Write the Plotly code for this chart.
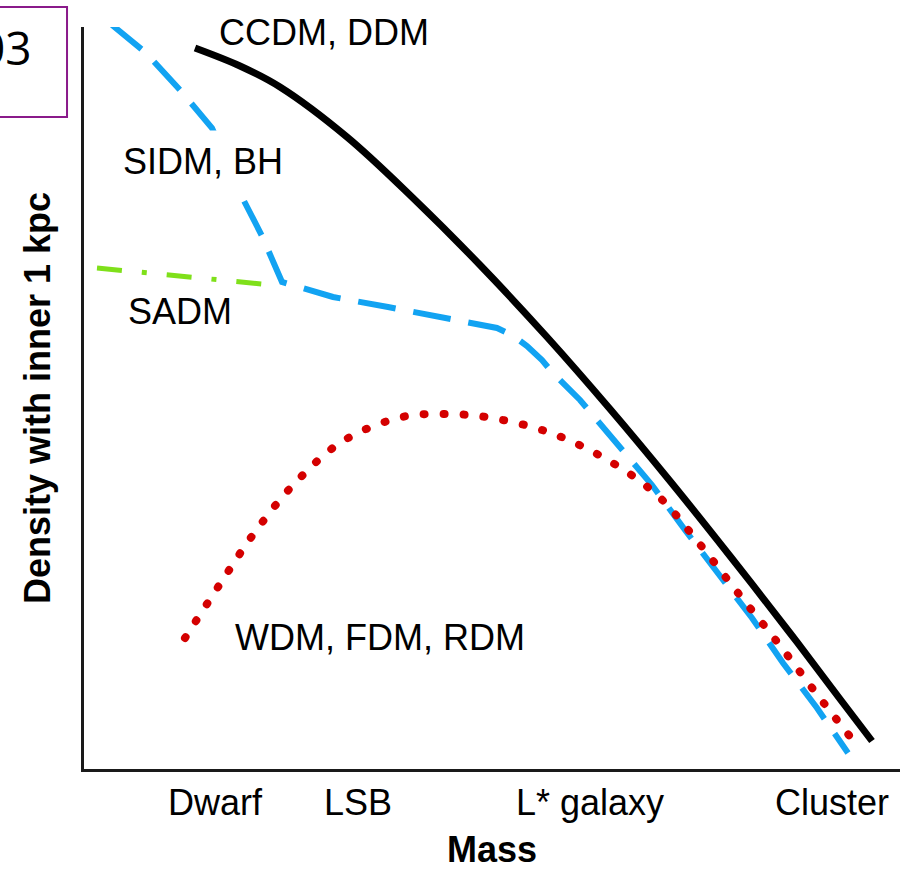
import plotly.graph_objects as go

# Schematic inner-density vs. halo-mass curves for several dark-matter models.
# Mass and density are in arbitrary plot units (origin at the axes corner).

ccdm_mass = [111, 156, 196, 263, 329, 396, 463, 526, 586, 646, 706, 756, 788]
ccdm_density = [721, 703, 682, 632, 571, 504, 432, 360, 288, 213, 136, 70, 28]

sidm_mass = [28, 61, 96, 128, 158, 178, 198, 249, 304, 359, 376, 413, 428,
             443, 458, 468, 496, 533, 568, 601, 636, 668, 699, 733, 764]
sidm_density = [744, 717, 679, 641, 572, 533, 487, 472, 462, 452, 449, 441,
                434, 423, 409, 397, 369, 326, 284, 239, 192, 151, 106, 61, 16]

sadm_mass = [13, 111, 188]
sadm_density = [501, 491, 484]

wdm_mass = [101, 136, 171, 211, 259, 318, 359, 402, 464, 522, 573, 614, 654,
            694, 732, 771]
wdm_density = [131, 185, 237, 286, 328, 352, 355, 352, 337, 310, 274, 227,
               176, 126, 76, 26]

mass_tick_pos = [131, 274, 506, 748]
mass_tick_text = ["Dwarf", "LSB", "L* galaxy", "Cluster"]

FONT = "Liberation Sans, Arial, Helvetica, sans-serif"
BLACK = "#000000"
BLUE = "#12a3f2"
GREEN = "#7fe01a"
RED = "rgb(212, 0, 0)"

fig = go.Figure()

fig.add_trace(go.Scatter(
    x=ccdm_mass, y=ccdm_density, mode="lines", name="CCDM, DDM",
    line=dict(color=BLACK, width=7, shape="spline", smoothing=1.0),
))
fig.add_trace(go.Scatter(
    x=sidm_mass, y=sidm_density, mode="lines", name="SIDM, BH",
    line=dict(color=BLUE, width=6, dash="38px,18px"),
))
fig.add_trace(go.Scatter(
    x=sadm_mass, y=sadm_density, mode="lines", name="SADM",
    line=dict(color=GREEN, width=5, dash="25px,20px,5px,20px"),
))
fig.add_trace(go.Scatter(
    x=wdm_mass, y=wdm_density, mode="lines", name="WDM, FDM, RDM",
    line=dict(color=RED, width=8, shape="spline", dash="1px,19px"),
))

labels = [
    ("CCDM, DDM", 240, 737, None),
    ("SIDM, BH", 119, 608, "white"),
    ("SADM", 96, 458, None),
    ("WDM, FDM, RDM", 296, 132, None),
]
for text, x, y, bg in labels:
    fig.add_annotation(
        x=x, y=y, xref="x", yref="y", text=text, showarrow=False,
        xanchor="center", yanchor="middle",
        font=dict(family=FONT, size=36, color=BLACK),
        bgcolor=bg if bg else "rgba(0,0,0,0)", borderpad=10,
    )

# Panel number box in the upper-left corner
fig.add_shape(
    type="rect", xref="paper", yref="paper",
    x0=-0.12, x1=-0.0208, y0=0.8787, y1=1.0270,
    line=dict(color="#8a1a8a", width=2), fillcolor="white", layer="above",
)
fig.add_annotation(
    x=-0.0610, y=0.973, xref="paper", yref="paper", text="03",
    showarrow=False, xanchor="right", yanchor="middle",
    font=dict(family="Liberation Sans Narrow, Open Sans, sans-serif", size=46, color=BLACK),
)

fig.update_layout(
    width=900, height=870,
    margin=dict(l=84, r=0, t=27, b=101),
    paper_bgcolor="white", plot_bgcolor="white",
    showlegend=False,
    font=dict(family=FONT, color=BLACK),
)
fig.update_xaxes(
    range=[0, 816], showgrid=False, zeroline=False,
    showline=True, linecolor="#1a1a1a", linewidth=2.5,
    tickmode="array", tickvals=mass_tick_pos, ticktext=mass_tick_text,
    ticks="", tickfont=dict(family=FONT, size=36, color=BLACK),
    title=dict(text="Mass", font=dict(family=FONT, size=36, color=BLACK, weight=700), standoff=15),
)
fig.update_yaxes(
    range=[0, 742], showgrid=False, zeroline=False,
    showline=True, linecolor="#1a1a1a", linewidth=2.5,
    showticklabels=False, ticks="",
    title=dict(text="Density with inner 1 kpc", font=dict(family=FONT, size=36, color=BLACK, weight=700), standoff=20),
)

round_dots = """
var gd = document.getElementById('{plot_id}');
gd.querySelectorAll('path.js-line').forEach(function (p) {
  if (p.style.stroke === 'rgb(212, 0, 0)') { p.style.strokeLinecap = 'round'; }
});
"""

fig.write_html("out.html", post_script=round_dots)
